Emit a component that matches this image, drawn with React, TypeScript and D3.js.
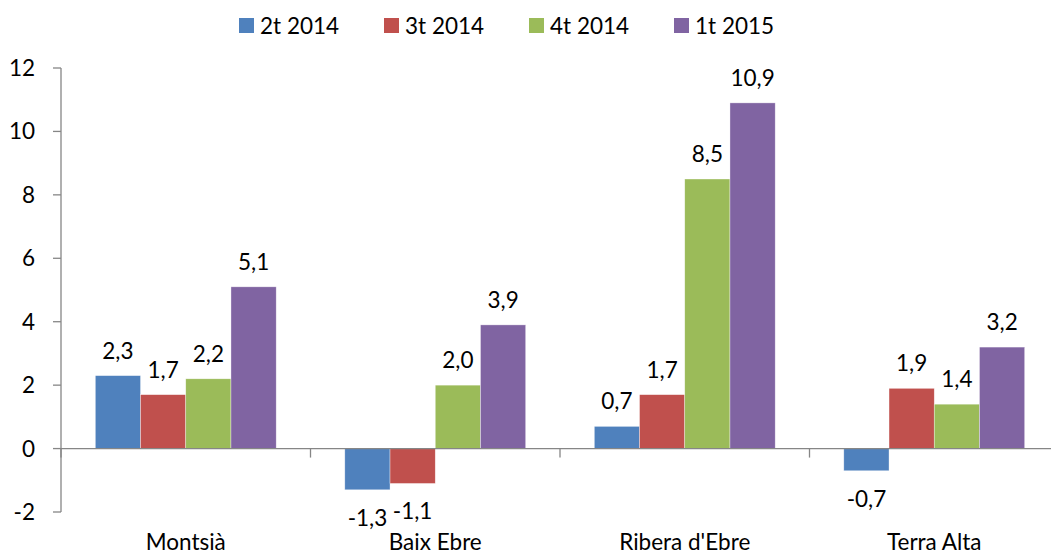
import React from 'react';
import * as d3 from 'd3';

const categories = ['Montsià', 'Baix Ebre', "Ribera d'Ebre", 'Terra Alta'];
const seriesNames = ['2t 2014', '3t 2014', '4t 2014', '1t 2015'];
const seriesColors = ['#4F81BD', '#C0504D', '#9BBB59', '#8064A2'];
const values2t2014 = [2.3, -1.3, 0.7, -0.7];
const values3t2014 = [1.7, -1.1, 1.7, 1.9];
const values4t2014 = [2.2, 2.0, 8.5, 1.4];
const values1t2015 = [5.1, 3.9, 10.9, 3.2];
const yTicks = [-2, 0, 2, 4, 6, 8, 10, 12];

const series = [values2t2014, values3t2014, values4t2014, values1t2015];

const W = 1051;
const H = 556;
const FONT = 'Lato, "Open Sans", sans-serif';
const FS = 22.5;
const AXIS = '#868686';

export default function App() {
  const left = 61;
  const right = 1059;
  const x0 = d3.scaleBand<string>().domain(categories).range([left, right]).paddingInner(0).paddingOuter(0);
  const y = d3.scaleLinear().domain([-2, 12]).range([512, 68]);
  const groupWidth = x0.bandwidth() * 0.725;
  const x1 = d3
    .scaleBand<number>()
    .domain(d3.range(series.length))
    .range([0, groupWidth]);
  const fmt = (v: number) => v.toFixed(1).replace('.', ',');
  const y0 = y(0);

  return (
    <div style={{ position: 'fixed', left: 0, top: 0 }}>
      <svg width={W} height={H} style={{ display: 'block', background: '#fff' }} fontFamily={FONT}>
        {/* bars */}
        {series.map((vals, si) =>
          vals.map((v, ci) => {
            const bx = (x0(categories[ci]) as number) + (x0.bandwidth() - groupWidth) / 2 + (x1(si) as number);
            const top = Math.min(y(v), y0);
            const h = Math.abs(y(v) - y0);
            return (
              <g key={`${si}-${ci}`}>
                <rect x={bx} y={top} width={x1.bandwidth()} height={h} fill={seriesColors[si]} stroke="#fff" strokeOpacity={0.6} strokeWidth={0.6} />
                <text
                  x={bx + x1.bandwidth() / 2}
                  y={v >= 0 ? y(v) - 17 : y(v) + 36}
                  textAnchor="middle"
                  fontSize={FS}
                  fill="#000"
                >
                  {fmt(v)}
                </text>
              </g>
            );
          })
        )}

        {/* y axis */}
        <line x1={left} x2={left} y1={y(12)} y2={y(-2)} stroke={AXIS} strokeWidth={1.3} />
        {yTicks.map((t) => (
          <g key={t}>
            <line x1={left - 8} x2={left} y1={y(t)} y2={y(t)} stroke={AXIS} strokeWidth={1.3} />
            <text x={35} y={y(t) + 8} textAnchor="end" fontSize={FS} fill="#000">
              {t}
            </text>
          </g>
        ))}

        {/* x axis at zero */}
        <line x1={left} x2={right} y1={y0} y2={y0} stroke={AXIS} strokeWidth={1.3} />
        {categories.map((c, i) => (
          <line key={`t${i}`} x1={x0(c) as number} x2={x0(c) as number} y1={y0} y2={y0 + 9} stroke={AXIS} strokeWidth={1.3} />
        ))}
        {categories.map((c) => (
          <text key={c} x={(x0(c) as number) + x0.bandwidth() / 2} y={550} textAnchor="middle" fontSize={FS} fill="#000">
            {c}
          </text>
        ))}

        {/* legend */}
        {seriesNames.map((n, i) => {
          const lx = 239 + i * 145;
          return (
            <g key={n}>
              <rect x={lx} y={18} width={15} height={15} fill={seriesColors[i]} />
              <text x={lx + 21} y={34} fontSize={FS} fill="#000">
                {n}
              </text>
            </g>
          );
        })}
      </svg>
    </div>
  );
}
